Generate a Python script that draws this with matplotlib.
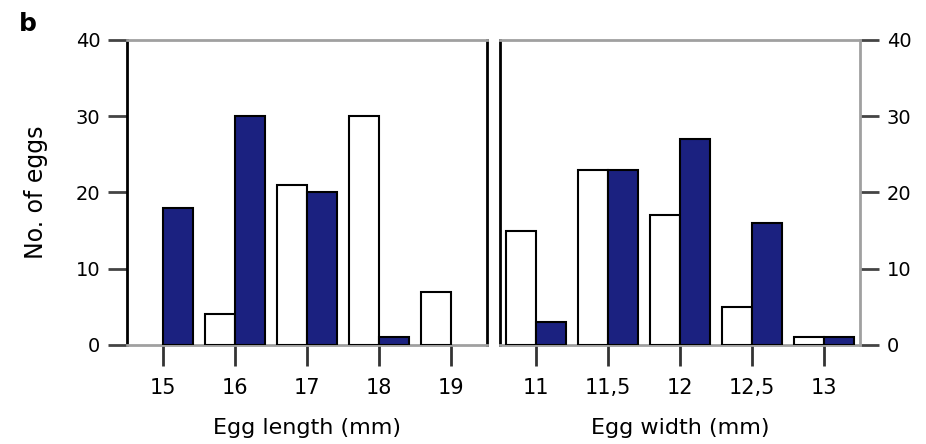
import numpy as np
import matplotlib
matplotlib.use("Agg")
import matplotlib.pyplot as plt

plt.rcParams['font.family'] = ['DejaVu Sans']

# dati
length_ticks = [15, 16, 17, 18, 19]
length_white = [0, 4, 21, 30, 7]
length_blue = [18, 30, 20, 1, 0]

width_ticks = [11, 11.5, 12, 12.5, 13]
width_labels = ["11", "11,5", "12", "12,5", "13"]
width_white = [15, 23, 17, 5, 1]
width_blue = [3, 23, 27, 16, 1]

navy = '#1b2180'
gray = '#a0a0a0'

fig = plt.figure(figsize=(9.26, 4.44), dpi=100)
ax1 = fig.add_axes([0.137, 0.223, 0.389, 0.687])
ax2 = fig.add_axes([0.540, 0.223, 0.389, 0.687])

def draw_panel(ax, ticks, white, blue, step):
    w = 0.42 * step
    x = np.array(ticks)
    # niente bordo per le barre a zero
    ec_w = ['black' if v > 0 else 'none' for v in white]
    ec_b = ['black' if v > 0 else 'none' for v in blue]
    ax.bar(x - w / 2, white, width=w, color='white', edgecolor=ec_w, linewidth=1.5, zorder=3)
    ax.bar(x + w / 2, blue, width=w, color=navy, edgecolor=ec_b, linewidth=1.5, zorder=3)
    ax.set_ylim(0, 40)
    ax.set_xlim(ticks[0] - 0.5 * step, ticks[-1] + 0.5 * step)
    ax.set_xticks(ticks)
    ax.set_yticks([0, 10, 20, 30, 40])
    ax.tick_params(axis='x', direction='out', length=15, width=2, color='#333333',
                   labelsize=15, pad=9)
    ax.tick_params(axis='y', direction='out', length=14, width=2, color='#444444',
                   labelsize=14, pad=5)
    ax.spines['top'].set_color(gray)
    ax.spines['top'].set_linewidth(2)
    ax.spines['bottom'].set_color(gray)
    ax.spines['bottom'].set_linewidth(2)

# grafico 1 - lunghezza
draw_panel(ax1, length_ticks, length_white, length_blue, 1.0)
ax1.spines['left'].set_linewidth(2)
ax1.spines['right'].set_linewidth(2)
ax1.set_xlabel("Egg length (mm)", fontsize=16, labelpad=14)
ax1.set_ylabel("No. of eggs", fontsize=17, labelpad=20)
ax1.text(-0.3, 1.03, "b", transform=ax1.transAxes, fontsize=18, fontweight='bold')

# grafico 2 - larghezza
draw_panel(ax2, width_ticks, width_white, width_blue, 0.5)
ax2.set_xticklabels(width_labels)
ax2.yaxis.tick_right()
ax2.spines['left'].set_linewidth(2)
ax2.spines['right'].set_color(gray)
ax2.spines['right'].set_linewidth(2)
ax2.set_xlabel("Egg width (mm)", fontsize=16, labelpad=14)

fig.savefig("out.png", dpi=100)
